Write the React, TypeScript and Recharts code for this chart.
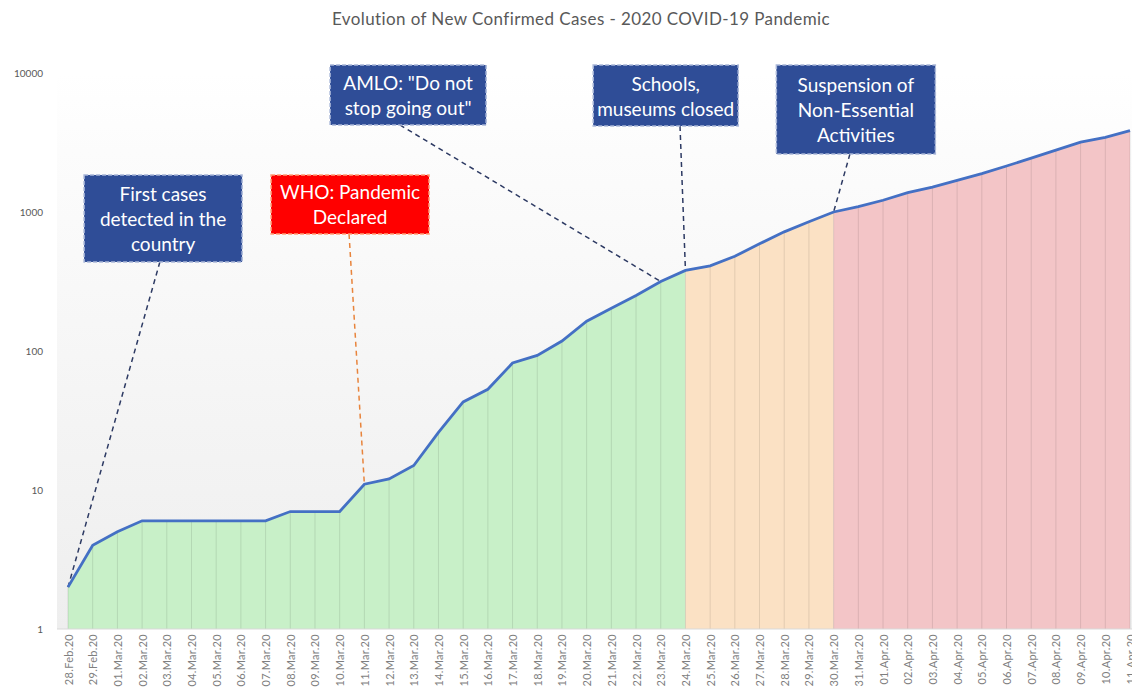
import {
  ComposedChart,
  Area,
  Line,
  XAxis,
  YAxis,
  CartesianGrid,
  ReferenceLine,
  ReferenceDot,
} from "recharts"

const dates = [
  "28.Feb.20", "29.Feb.20",
  "01.Mar.20", "02.Mar.20", "03.Mar.20", "04.Mar.20", "05.Mar.20", "06.Mar.20",
  "07.Mar.20", "08.Mar.20", "09.Mar.20", "10.Mar.20", "11.Mar.20", "12.Mar.20",
  "13.Mar.20", "14.Mar.20", "15.Mar.20", "16.Mar.20", "17.Mar.20", "18.Mar.20",
  "19.Mar.20", "20.Mar.20", "21.Mar.20", "22.Mar.20", "23.Mar.20", "24.Mar.20",
  "25.Mar.20", "26.Mar.20", "27.Mar.20", "28.Mar.20", "29.Mar.20", "30.Mar.20",
  "31.Mar.20",
  "01.Apr.20", "02.Apr.20", "03.Apr.20", "04.Apr.20", "05.Apr.20", "06.Apr.20",
  "07.Apr.20", "08.Apr.20", "09.Apr.20", "10.Apr.20", "11.Apr.20",
]

const cases = [
  2, 4,
  5, 6, 6, 6, 6, 6, 6, 7, 7, 7, 11, 12, 15, 26, 43, 53, 82, 93, 118, 164, 203,
  251, 316, 380, 410, 480, 590, 720, 850, 1000, 1094,
  1215, 1378, 1510, 1688, 1890, 2143, 2439, 2785, 3181, 3441, 3844,
]

// last index of the green phase, last index of the orange phase
const phaseBreaks = [25, 31]

const yTicks = [1, 10, 100, 1000, 10000]

// annotation boxes, placed in data units (x = day index, y = cases)
const notes = [
  { lines: ["First cases", "detected in the", "country"], at: 0, boxX: 3.85, boxY: 437, lineX: 3.72, w: 158, h: 87, red: false },
  { lines: ["WHO: Pandemic", "Declared"], at: 12, boxX: 11.42, boxY: 695, lineX: 11.38, w: 158, h: 59, red: true },
  { lines: ["AMLO: \"Do not", "stop going out\""], at: 24, boxX: 13.77, boxY: 4227, lineX: 13.44, w: 156, h: 60, red: false },
  { lines: ["Schools,", "museums closed"], at: 25, boxX: 24.2, boxY: 4156, lineX: 24.78, w: 145, h: 61, red: false },
  { lines: ["Suspension of", "Non-Essential", "Activities"], at: 31, boxX: 31.9, boxY: 2613, lineX: 31.66, w: 159, h: 89, red: false },
]

const data = dates.map((date, i) => ({
  idx: i,
  date,
  cases: cases[i],
  early: i <= phaseBreaks[0] ? cases[i] : null,
  mid: i >= phaseBreaks[0] && i <= phaseBreaks[1] ? cases[i] : null,
  late: i >= phaseBreaks[1] ? cases[i] : null,
}))

const FONT = "Lato, 'Open Sans', sans-serif"

function DateTick({ x, y, payload }: any) {
  return (
    <text
      x={x}
      y={y}
      transform={`rotate(-90 ${x} ${y})`}
      textAnchor="end"
      dominantBaseline="central"
      fontSize={11}
      letterSpacing={0.3}
      fontFamily={FONT}
      fill="#7f7f7f"
    >
      {dates[payload.value]}
    </text>
  )
}

function NoteBox({ cx, cy, note }: any) {
  const n = note.lines.length
  return (
    <g>
      <rect
        x={cx - note.w / 2}
        y={cy - note.h}
        width={note.w}
        height={note.h}
        fill={note.red ? "#ff0000" : "#2f4d97"}
        stroke={note.red ? "#ffa07a" : "#a9b7d8"}
        strokeWidth={1.5}
        strokeDasharray="4 2"
      />
      {note.lines.map((t: string, k: number) => (
        <text
          key={k}
          x={cx}
          y={cy - note.h / 2 + (k - (n - 1) / 2) * 25}
          textAnchor="middle"
          dominantBaseline="central"
          fill="#ffffff"
          fontSize={19}
          fontFamily={FONT}
        >
          {t}
        </text>
      ))}
    </g>
  )
}

export default function App() {
  return (
    <div
      style={{
        position: "fixed",
        left: 0,
        top: 0,
        width: 1132,
        height: 691,
        overflow: "hidden",
        background: "#fff",
        fontFamily: FONT,
      }}
    >
      <div
        style={{
          position: "absolute",
          left: 0,
          top: 8,
          width: 1162,
          textAlign: "center",
          fontSize: 17,
          letterSpacing: 0.4,
          color: "#595959",
        }}
      >
        Evolution of New Confirmed Cases - 2020 COVID-19 Pandemic
      </div>
      <ComposedChart
        width={1150}
        height={705}
        data={data}
        margin={{ top: 73, right: 9, bottom: 0, left: 0 }}
      >
        <defs>
          <linearGradient id="plotBg" x1="0" y1="0" x2="0" y2="1">
            <stop offset="0%" stopColor="#ffffff" />
            <stop offset="14%" stopColor="#fcfcfc" />
            <stop offset="100%" stopColor="#eeeeee" />
          </linearGradient>
        </defs>
        <CartesianGrid horizontal={false} vertical={false} fill="url(#plotBg)" />
        <XAxis
          type="number"
          dataKey="idx"
          domain={[0, dates.length - 1]}
          ticks={data.map((d) => d.idx)}
          interval={0}
          padding={{ left: 11, right: 11 }}
          height={76}
          tick={<DateTick />}
          tickLine={false}
          tickSize={0}
          tickMargin={5}
          axisLine={{ stroke: "#d9d9d9" }}
        />
        <YAxis
          scale="log"
          domain={[1, 10000]}
          ticks={yTicks}
          allowDataOverflow
          width={57}
          axisLine={false}
          tickLine={false}
          tickSize={0}
          tickMargin={14}
          tick={{ fontSize: 10, fill: "#595959", fontFamily: FONT }}
        />
        <Area
          dataKey="early"
          type="linear"
          baseValue={1}
          fill="#c8f0c8"
          fillOpacity={1}
          stroke="none"
          isAnimationActive={false}
        />
        <Area
          dataKey="mid"
          type="linear"
          baseValue={1}
          fill="#fbe1c4"
          fillOpacity={1}
          stroke="none"
          isAnimationActive={false}
        />
        <Area
          dataKey="late"
          type="linear"
          baseValue={1}
          fill="#f3c5c7"
          fillOpacity={1}
          stroke="none"
          isAnimationActive={false}
        />
        {data.map((d) => (
          <ReferenceLine
            key={`v${d.idx}`}
            segment={[
              { x: d.idx, y: 1 },
              { x: d.idx, y: d.cases },
            ]}
            stroke="#000000"
            strokeOpacity={0.1}
            strokeWidth={1}
            ifOverflow="visible"
          />
        ))}
        {notes.map((n, k) => (
          <ReferenceLine
            key={`l${k}`}
            segment={[
              { x: n.lineX, y: n.boxY },
              { x: n.at, y: cases[n.at] },
            ]}
            stroke={n.red ? "#e8843c" : "#2d3a63"}
            strokeWidth={1.5}
            strokeDasharray="5 4"
            ifOverflow="visible"
          />
        ))}
        <Line
          dataKey="cases"
          type="linear"
          stroke="#4470c4"
          strokeWidth={2.8}
          dot={false}
          activeDot={false}
          isAnimationActive={false}
        />
        {notes.map((n, k) => (
          <ReferenceDot
            key={`b${k}`}
            x={n.boxX}
            y={n.boxY}
            r={1}
            ifOverflow="visible"
            shape={(p: any) => <NoteBox {...p} note={n} />}
          />
        ))}
      </ComposedChart>
    </div>
  )
}
